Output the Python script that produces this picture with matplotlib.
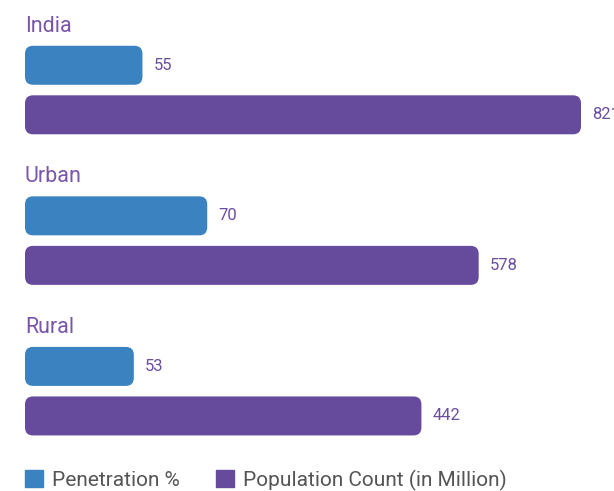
import matplotlib.pyplot as plt
from matplotlib.patches import FancyBboxPatch, Patch

plt.rcParams['font.family'] = ['Roboto', 'DejaVu Sans']

regions = ['India', 'Urban', 'Rural']
penetration = [55, 70, 53]  # Penetration %
population = [821, 578, 442]  # Population Count (in Million)

blue = '#3b82c0'
purple = '#664a9b'
label_col = '#6b4ea0'

fig = plt.figure(figsize=(6.14, 4.91), dpi=100)
ax = fig.add_axes([25 / 614, 0, 589 / 614, 1])
ax2 = ax.twiny()

ax.set_xlim(27.8, 164.2)
ax2.set_xlim(-499.6, 899.4)
ax.set_ylim(2.663, -0.598)

ypos = list(range(len(regions)))
off = 0.1645
h = 0.259
b1 = ax.barh([y - off for y in ypos], [v - 27.8 for v in penetration], left=27.8, height=h, color=blue)
b2 = ax2.barh([y + off for y in ypos], [v + 499.6 for v in population], left=-499.6, height=h, color=purple)

# swap bars for rounded ones
ypp = (2.663 + 0.598) / 491
for axis, bars, col in [(ax, b1, blue), (ax2, b2, purple)]:
    x0, x1 = axis.get_xlim()
    xpp = (x1 - x0) / 589
    for b in bars:
        r = 8 * xpp
        p = FancyBboxPatch((b.get_x(), b.get_y()), b.get_width(), b.get_height(),
                           boxstyle=f'round,pad=0,rounding_size={r}',
                           mutation_aspect=ypp / xpp, fc=col, ec='none')
        axis.add_patch(p)
        b.set_visible(False)

for y, v in zip(ypos, penetration):
    ax.annotate(str(v), xy=(v, y - off), xytext=(8, 0), textcoords='offset points',
                va='center', ha='left', fontsize=12, color=label_col, annotation_clip=False)
for y, v in zip(ypos, population):
    ax2.annotate(str(v), xy=(v, y + off), xytext=(8, 0), textcoords='offset points',
                 va='center', ha='left', fontsize=12, color=label_col, annotation_clip=False)

for y, name in zip(ypos, regions):
    ax.text(0, y - 0.386, name, transform=ax.get_yaxis_transform(), fontsize=15.5,
            color='#7a56aa', va='baseline', ha='left')

for a in (ax, ax2):
    a.axis('off')

handles = [Patch(color=blue, label='Penetration %'), Patch(color=purple, label='Population Count (in Million)')]
fig.legend(handles=handles, loc='center left', bbox_to_anchor=(25 / 614, 1 - 480 / 491), ncol=2,
           frameon=False, fontsize=15, labelcolor='#555555', handlelength=0.87, handleheight=0.87,
           handletextpad=0.43, columnspacing=1.73, borderpad=0, borderaxespad=0)

fig.savefig('out.png', dpi=100)
